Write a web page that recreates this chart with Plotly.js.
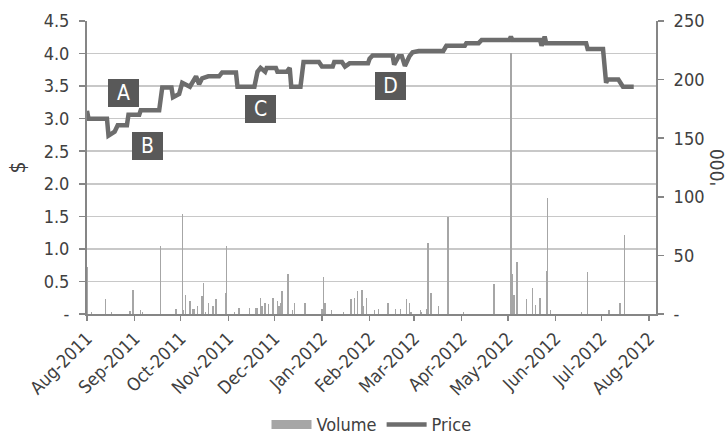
<!DOCTYPE html>
<html>
<head>
<meta charset="utf-8">
<script src="https://cdn.plot.ly/plotly-3.0.1.min.js"></script>
<style>html,body{margin:0;padding:0;background:#fff;}#chart{width:728px;height:439px;}</style>
</head>
<body>
<div id="chart"></div>
<script>
// Price ($), step-like daily closes
const priceDates = ['2011-08-01','2011-08-02','2011-08-14','2011-08-15','2011-08-19','2011-08-21','2011-08-27','2011-08-28','2011-09-04','2011-09-05','2011-09-17','2011-09-19','2011-09-25','2011-09-26','2011-09-30','2011-10-02','2011-10-07','2011-10-11','2011-10-13','2011-10-15','2011-10-19','2011-10-26','2011-10-28','2011-11-06','2011-11-07','2011-11-18','2011-11-20','2011-11-22','2011-11-25','2011-11-26','2011-12-02','2011-12-03','2011-12-09','2011-12-11','2011-12-12','2011-12-18','2011-12-20','2011-12-30','2012-01-01','2012-01-08','2012-01-09','2012-01-14','2012-01-16','2012-01-19','2012-01-31','2012-02-01','2012-02-03','2012-02-16','2012-02-17','2012-02-20','2012-02-22','2012-02-24','2012-02-27','2012-02-29','2012-03-04','2012-03-20','2012-03-22','2012-04-03','2012-04-04','2012-04-12','2012-04-14','2012-05-02','2012-05-03','2012-05-04','2012-05-22','2012-05-23','2012-05-25','2012-05-26','2012-06-21','2012-06-22','2012-07-02','2012-07-04','2012-07-05','2012-07-12','2012-07-15','2012-07-22'];
const priceValues = [3.12,3.0,3.0,2.74,2.8,2.9,2.9,3.06,3.06,3.13,3.13,3.48,3.48,3.33,3.38,3.55,3.49,3.65,3.53,3.62,3.65,3.65,3.71,3.71,3.49,3.49,3.72,3.78,3.72,3.78,3.78,3.72,3.72,3.78,3.49,3.49,3.87,3.87,3.8,3.8,3.87,3.87,3.8,3.85,3.85,3.92,3.97,3.97,3.83,3.96,3.96,3.81,3.96,4.02,4.04,4.04,4.12,4.12,4.16,4.16,4.21,4.21,4.26,4.21,4.21,4.12,4.26,4.16,4.16,4.07,4.07,3.55,3.6,3.6,3.49,3.49];

// Volume ('000)
const volDates = ['2011-08-01','2011-08-04','2011-08-13','2011-08-17','2011-08-29','2011-08-31','2011-09-05','2011-09-06','2011-09-18','2011-09-28','2011-10-02','2011-10-03','2011-10-04','2011-10-07','2011-10-09','2011-10-10','2011-10-12','2011-10-15','2011-10-16','2011-10-17','2011-10-19','2011-10-22','2011-10-24','2011-10-30','2011-10-31','2011-11-05','2011-11-08','2011-11-15','2011-11-19','2011-11-20','2011-11-22','2011-11-23','2011-11-25','2011-11-27','2011-11-30','2011-12-03','2011-12-04','2011-12-05','2011-12-06','2011-12-10','2011-12-13','2011-12-14','2011-12-21','2012-01-01','2012-01-02','2012-01-03','2012-01-07','2012-01-15','2012-01-20','2012-01-22','2012-01-24','2012-01-27','2012-01-28','2012-01-30','2012-02-04','2012-02-07','2012-02-13','2012-02-18','2012-02-21','2012-02-25','2012-02-27','2012-02-28','2012-03-05','2012-03-06','2012-03-09','2012-03-10','2012-03-12','2012-03-17','2012-03-23','2012-04-02','2012-04-22','2012-05-03','2012-05-04','2012-05-05','2012-05-07','2012-05-13','2012-05-17','2012-05-19','2012-05-22','2012-05-26','2012-05-27','2012-05-29','2012-06-18','2012-06-22','2012-07-06','2012-07-13','2012-07-16'];
const volValues = [40,1.5,12.4,1.5,2.9,20.6,3,1.5,57.6,4,85.5,3,16.4,11.5,4.3,4.3,7,15.2,26.3,1.5,9.5,7,12.4,18,57.6,1.5,5.3,5.3,5.3,5.3,13.8,7,9.5,8.5,13.8,11.5,7,9.5,19.5,34.3,3,9.5,9.5,4.3,31.4,9.5,3,1.5,12.4,13.8,19.5,20.9,7,13.8,3,4.3,9.5,4.3,4.3,12.4,9.5,1.5,3,1.5,4.3,60.7,18,7,82.6,1.5,25.8,223,34.3,16.6,44.2,13,22.4,7.3,13.8,37,99,3.5,1.5,35.7,3.5,9.5,67];

// Axis ticks
const monthTicks = ['2011-08-01','2011-09-01','2011-10-01','2011-11-01','2011-12-01','2012-01-01','2012-02-01','2012-03-01','2012-04-01','2012-05-01','2012-06-01','2012-07-01','2012-08-01'];
const monthLabels = ['Aug-2011','Sep-2011','Oct-2011','Nov-2011','Dec-2011','Jan-2012','Feb-2012','Mar-2012','Apr-2012','May-2012','Jun-2012','Jul-2012','Aug-2012'];
const priceTicks = [0,0.5,1,1.5,2,2.5,3,3.5,4,4.5];
const priceLabels = ['-','0.5','1.0','1.5','2.0','2.5','3.0','3.5','4.0','4.5'];
const volTicks = [0,50,100,150,200,250];
const volLabels = ['-','50','100','150','200','250'];

// Event markers
const eventLabels = ['A','B','C','D'];
const eventDates = ['2011-08-25','2011-09-09 16:00','2011-11-22','2012-02-14 16:00'];
const eventPrices = [3.40,2.58,3.15,3.50];

const FONT = 'DejaVu Sans Condensed, DejaVu Sans, sans-serif';
const TXT = '#404040';
const AX = '#868686';

const traces = [
  {type:'scatter', mode:'lines', x:[null], y:[null], name:'Volume', yaxis:'y',
   line:{color:'#a6a6a6', width:9}, hoverinfo:'skip'},
  {type:'bar', x:volDates, y:volValues, name:'Volume', showlegend:false, yaxis:'y',
   width:86400000*0.9, marker:{color:'#a6a6a6', line:{width:0}}},
  {type:'scatter', mode:'lines', x:priceDates, y:priceValues, name:'Price', yaxis:'y2',
   line:{color:'#6d6d6d', width:4.5}}
];

const annotations = eventLabels.map((t,i)=>({
  text:t, x:eventDates[i], y:eventPrices[i], xref:'x', yref:'y2', showarrow:false,
  bgcolor:'#595959', width:31, height:28, borderpad:0, borderwidth:0,
  font:{family:FONT, size:21, color:'#ffffff'}
}));

const layout = {
  width:728, height:439,
  margin:{l:87, r:72, t:21, b:125, autoexpand:false},
  paper_bgcolor:'#ffffff', plot_bgcolor:'#ffffff',
  font:{family:FONT, color:TXT, size:18},
  showlegend:true,
  legend:{orientation:'h', x:0.5, xanchor:'center', y:-0.378, yanchor:'middle',
    font:{family:FONT, size:18, color:TXT}, itemwidth:40, traceorder:'normal',
    tracegroupgap:0, borderwidth:0},
  bargap:0,
  xaxis:{type:'date', range:['2011-08-01','2012-08-05 12:00'],
    tickmode:'array', tickvals:monthTicks, ticktext:monthLabels, tickangle:-45,
    ticks:'outside', ticklen:5, tickwidth:1.5, tickcolor:AX,
    showline:true, linecolor:AX, linewidth:2, showgrid:false, zeroline:false,
    tickfont:{family:FONT, size:18, color:TXT}, automargin:false},
  yaxis:{side:'right', range:[0,250], tickmode:'array', tickvals:volTicks, ticktext:volLabels,
    ticks:'outside', ticklen:6, tickwidth:1.5, tickcolor:AX, showline:true, linecolor:AX, linewidth:2,
    showgrid:false, zeroline:false, ticklabelstandoff:6,
    tickfont:{family:FONT, size:18, color:TXT},
    title:{text:"'000", font:{family:FONT, size:19, color:TXT}, standoff:14}, automargin:false},
  yaxis2:{side:'left', overlaying:'y', range:[0,4.5], tickmode:'array', tickvals:priceTicks, ticktext:priceLabels,
    ticks:'outside', ticklen:6, tickwidth:1.5, tickcolor:AX, showline:true, linecolor:AX, linewidth:2,
    showgrid:true, gridcolor:'#c8c8c8', gridwidth:1.5, zeroline:false, ticklabelstandoff:6,
    tickfont:{family:FONT, size:18, color:TXT},
    title:{text:'$', font:{family:FONT, size:21, color:TXT}, standoff:12}, automargin:false},
  annotations:annotations
};

Plotly.newPlot('chart', traces, layout, {staticPlot:true, displayModeBar:false});
</script>
</body>
</html>
